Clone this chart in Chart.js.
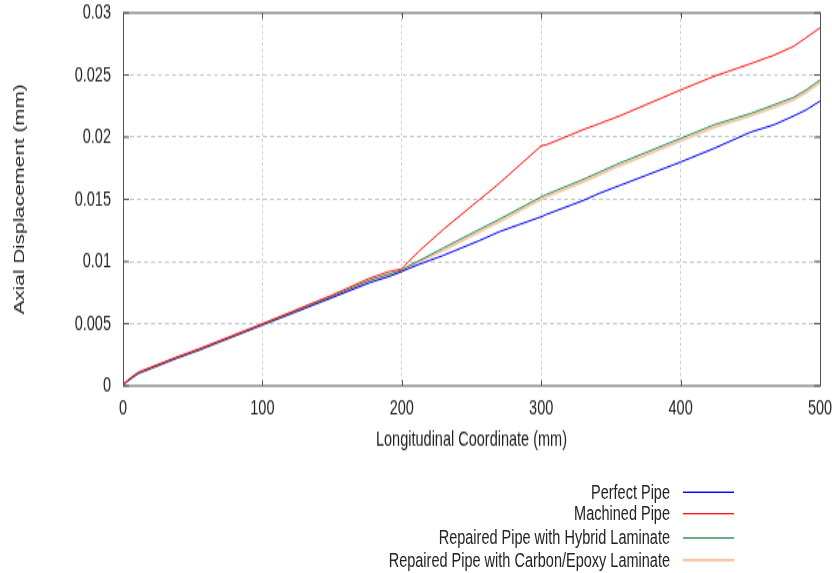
<!DOCTYPE html>
<html>
<head>
<meta charset="utf-8">
<script src="https://cdn.jsdelivr.net/npm/chart.js@4/dist/chart.umd.min.js"></script>
<style>
html, body { margin: 0; padding: 0; background: #fff; }
body { width: 832px; height: 573px; overflow: hidden; }
/* the original figure is stretched vertically, so draw at 401px high and scale up */
#wrap { position: relative; width: 832px; height: 401px; transform-origin: 0 0; transform: scaleY(1.4289); }
#legend { position: absolute; left: 0; top: 0; width: 832px; height: 401px; pointer-events: none;
          font-family: "Liberation Sans", Arial, sans-serif; font-size: 14.5px; color: #222; }
.lg-text { position: absolute; right: 162px; white-space: nowrap; line-height: 17px; }
.lg-line { position: absolute; left: 683px; width: 51px; }
</style>
</head>
<body>
<div id="wrap">
  <canvas id="c" width="832" height="401"></canvas>
  <div id="legend"></div>
</div>
<script>
// longitudinal coordinate (mm)
const xCoord = [0, 6, 11, 20, 38, 55, 100, 150, 177, 191, 200, 204, 213, 230, 256, 270, 300, 304, 330, 342, 356, 400, 424, 450, 467, 481, 490, 500];

// axial displacement (mm)
const perfectPipe = [0.0001, 0.0006, 0.0010, 0.0014, 0.0022, 0.0029, 0.0049, 0.0071, 0.0083, 0.0088, 0.0092, 0.0094, 0.0098, 0.0105, 0.0117, 0.0124, 0.0136, 0.0138, 0.0149, 0.0155, 0.0161, 0.0180, 0.0191, 0.0204, 0.0210, 0.0217, 0.0222, 0.0229];
const machinedPipe = [0.0001, 0.0007, 0.0011, 0.0015, 0.0023, 0.0030, 0.0050, 0.0073, 0.00866, 0.0092, 0.0094, 0.0099, 0.0109, 0.0126, 0.0150, 0.0163, 0.0193, 0.0194, 0.0206, 0.0211, 0.0217, 0.0238, 0.0249, 0.0259, 0.0266, 0.0273, 0.0280, 0.0288];
const hybridPipe = [0.0001, 0.00065, 0.00105, 0.00145, 0.00225, 0.00295, 0.00495, 0.0072, 0.0085, 0.0090, 0.0093, 0.0096, 0.0101, 0.0111, 0.0126, 0.0134, 0.0152, 0.0154, 0.0166, 0.0172, 0.0179, 0.0199, 0.0210, 0.0219, 0.0226, 0.0232, 0.0238, 0.0246];
const carbonPipe = [0.0001, 0.0006, 0.0010, 0.0014, 0.0022, 0.0029, 0.0049, 0.0071, 0.0084, 0.0089, 0.0092, 0.0095, 0.0100, 0.0109, 0.0124, 0.0132, 0.0150, 0.0152, 0.0164, 0.0170, 0.0177, 0.0197, 0.0208, 0.0217, 0.0224, 0.0230, 0.0236, 0.0244];

const seriesNames = ["Perfect Pipe", "Machined Pipe", "Repaired Pipe with Hybrid Laminate", "Repaired Pipe with Carbon/Epoxy Laminate"];
const seriesColors = ["#0000ff", "#ff1a1a", "#2e8b57", "#f9c6a4"];
const seriesWidths = [1, 1, 1, 1.8];
const drawOrder = [2, 0, 1, 3]; // red on top, peach at the bottom

const xTicks = [0, 100, 200, 300, 400, 500];
const yTicks = [0, 0.005, 0.01, 0.015, 0.02, 0.025, 0.03];

const FONT = { family: "'Liberation Sans', Arial, sans-serif", size: 14.5 };
const TXT = '#222';

function pts(ys) { return xCoord.map((x, i) => ({ x: x, y: ys[i] })); }
const allSeries = [perfectPipe, machinedPipe, hybridPipe, carbonPipe];

// frame round the plot + small inward tick marks on all four sides
const framePlugin = {
    id: 'frame',
    afterDraw(chart) {
        const { ctx, chartArea: a, scales } = chart;
        ctx.save();
        ctx.strokeStyle = '#555';
        ctx.lineWidth = 1;
        ctx.beginPath();
        xTicks.forEach(v => {
            const px = Math.round(scales.x.getPixelForValue(v)) + 0.5;
            ctx.moveTo(px, a.bottom); ctx.lineTo(px, a.bottom - 4);
            ctx.moveTo(px, a.top); ctx.lineTo(px, a.top + 4);
        });
        yTicks.forEach(v => {
            const py = scales.y.getPixelForValue(v);
            ctx.moveTo(a.left, py); ctx.lineTo(a.left + 6, py);
            ctx.moveTo(a.right, py); ctx.lineTo(a.right - 6, py);
        });
        ctx.stroke();
        ctx.strokeRect(Math.round(a.left) + 0.5, a.top, Math.round(a.right - a.left), a.bottom - a.top);
        ctx.restore();
    }
};

new Chart(document.getElementById('c'), {
    type: 'line',
    data: {
        datasets: seriesNames.map((name, i) => ({
            label: name, data: pts(allSeries[i]),
            borderColor: seriesColors[i], borderWidth: seriesWidths[i],
            pointRadius: 0, tension: 0, fill: false, order: drawOrder[i]
        }))
    },
    options: {
        responsive: false, animation: false, events: [],
        layout: { padding: { left: 11, right: 12, top: 9, bottom: 84.5 } },
        plugins: { legend: { display: false }, tooltip: { enabled: false } },
        scales: {
            x: {
                type: 'linear', min: 0, max: 500,
                afterFit: s => { s.height = 46.5; s.paddingLeft = 0; s.paddingRight = 0; },
                afterBuildTicks: s => { s.ticks = xTicks.map(v => ({ value: v })); },
                ticks: { font: FONT, color: TXT, padding: 7, maxRotation: 0 },
                grid: { drawTicks: false, lineWidth: 1, color: c => (c.tick && (c.tick.value === 0 || c.tick.value === 500)) ? 'rgba(0,0,0,0)' : '#c8c8c8' },
                border: { display: false, dash: [2, 2.2] },
                title: { display: true, text: 'Longitudinal Coordinate (mm)', font: FONT, color: TXT, padding: 0 }
            },
            y: {
                type: 'linear', min: 0, max: 0.03,
                afterFit: s => { s.width = 112; s.paddingTop = 0; s.paddingBottom = 0; },
                afterBuildTicks: s => { s.ticks = yTicks.map(v => ({ value: v })); },
                ticks: { font: FONT, color: TXT, padding: 12, callback: v => String(+Number(v).toFixed(3)) },
                grid: { drawTicks: false, lineWidth: 1, color: c => (c.tick && (c.tick.value === 0 || c.tick.value === 0.03)) ? 'rgba(0,0,0,0)' : '#c8c8c8' },
                border: { display: false, dash: [4, 3] },
                title: { display: true, text: 'Axial Displacement (mm)', font: FONT, color: TXT, padding: 0 }
            }
        }
    },
    plugins: [framePlugin]
});

// legend: text on the left, line sample on the right (gnuplot style)
const legendRowsY = [344.3, 359.6, 376.1, 392.2];
const lg = document.getElementById('legend');
seriesNames.forEach((name, i) => {
    const t = document.createElement('div');
    t.className = 'lg-text';
    t.textContent = name;
    t.style.top = (legendRowsY[i] - 8.5) + 'px';
    lg.appendChild(t);
    const l = document.createElement('div');
    l.className = 'lg-line';
    l.style.top = (legendRowsY[i] - seriesWidths[i] / 2) + 'px';
    l.style.height = seriesWidths[i] + 'px';
    l.style.background = seriesColors[i];
    lg.appendChild(l);
});
</script>
</body>
</html>
